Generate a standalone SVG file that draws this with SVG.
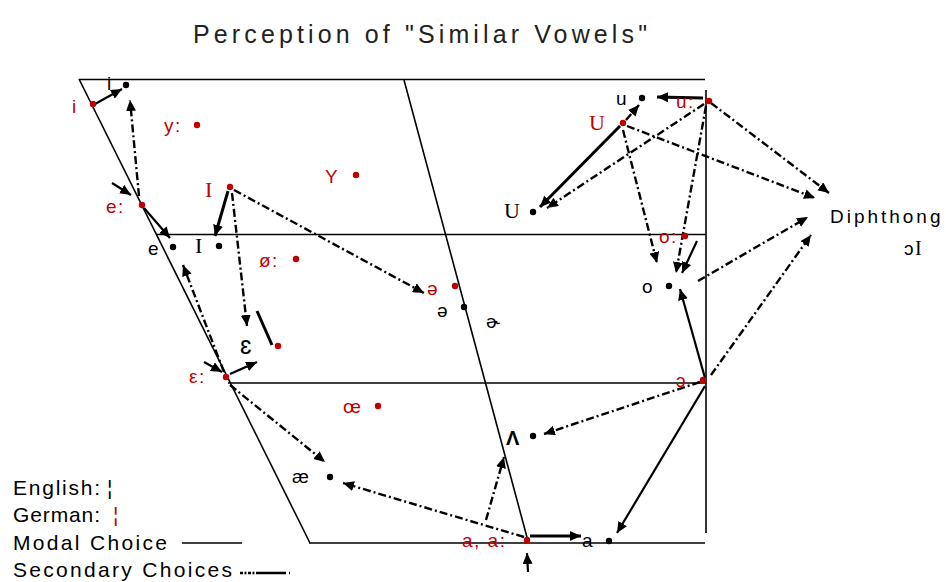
<svg xmlns="http://www.w3.org/2000/svg" width="946" height="582" viewBox="0 0 946 582">
<style>
.bg{fill:#ffffff}
.frame{stroke:#000;stroke-width:1.6;fill:none}
.lab{font-family:"Liberation Sans","DejaVu Sans",sans-serif;font-size:19px;letter-spacing:1.5px}
.ser{font-family:"Liberation Serif","DejaVu Serif",serif;font-size:22px}
.red{fill:#c00000}
.blk{fill:#000}
.dr{fill:#c00000}
.db{fill:#000}
.solid{stroke:#000;stroke-width:2.2;fill:none}
.thick{stroke:#000;stroke-width:3;fill:none}
.dd{stroke:#000;stroke-width:2.4;fill:none;stroke-dasharray:8 3 2 3}
.leg{font-family:"Liberation Sans","DejaVu Sans",sans-serif;font-size:21px}
</style>
<defs>
<marker id="ah" markerUnits="userSpaceOnUse" markerWidth="12" markerHeight="10" refX="11" refY="5" orient="auto">
<path d="M0,0 L11,5 L0,10 z" fill="#000"/>
</marker>
</defs>
<rect class="bg" x="0" y="0" width="946" height="582"/>
<text x="193" y="43" font-family="Liberation Sans, DejaVu Sans, sans-serif" font-size="25" textLength="454" lengthAdjust="spacing" fill="#222">Perception of "Similar Vowels"</text>
<g id="frame">
<line class="frame" x1="79" y1="79.5" x2="705" y2="79.5"/>
<line class="frame" x1="706" y1="90" x2="706" y2="533"/>
<line class="frame" x1="309" y1="543" x2="705" y2="543"/>
<line class="frame" x1="79" y1="79" x2="310" y2="543"/>
<line class="frame" x1="157" y1="234.5" x2="706" y2="234.5"/>
<line class="frame" x1="228" y1="383" x2="706" y2="383"/>
<line class="frame" x1="404" y1="80" x2="528" y2="541"/>
</g>
<g id="connectors">
<line class="solid" x1="95" y1="104" x2="122" y2="89" marker-end="url(#ah)"/>
<line class="solid" x1="144" y1="208" x2="170" y2="238" marker-end="url(#ah)"/>
<line class="thick" x1="228" y1="191" x2="215" y2="236" marker-end="url(#ah)"/>
<line class="thick" x1="272" y1="345" x2="257" y2="311"/>
<line class="solid" x1="230" y1="374" x2="257" y2="362" marker-end="url(#ah)"/>
<line class="solid" x1="204" y1="362" x2="222" y2="372" marker-end="url(#ah)"/>
<line class="solid" x1="112" y1="183" x2="131" y2="195" marker-end="url(#ah)"/>
<line class="thick" x1="620" y1="126" x2="540" y2="207" marker-end="url(#ah)"/>
<line class="thick" x1="703" y1="98" x2="657" y2="97" marker-end="url(#ah)"/>
<line class="solid" x1="697" y1="241" x2="682" y2="273" marker-end="url(#ah)"/>
<line class="solid" x1="705" y1="378" x2="680" y2="289" marker-end="url(#ah)"/>
<line class="solid" x1="705" y1="386" x2="617" y2="533" marker-end="url(#ah)"/>
<line class="thick" x1="530" y1="536" x2="581" y2="536" marker-end="url(#ah)"/>
<line class="solid" x1="528" y1="572" x2="527" y2="553" marker-end="url(#ah)"/>
<line class="dd" x1="139" y1="196" x2="130" y2="100" marker-end="url(#ah)"/>
<line class="dd" x1="224" y1="372" x2="183" y2="265" marker-end="url(#ah)"/>
<line class="dd" x1="232" y1="193" x2="247" y2="326" marker-end="url(#ah)"/>
<line class="dd" x1="234" y1="190" x2="424" y2="293" marker-end="url(#ah)"/>
<line class="dd" x1="230" y1="385" x2="325" y2="462" marker-end="url(#ah)"/>
<line class="dd" x1="524" y1="537" x2="343" y2="483" marker-end="url(#ah)"/>
<line class="dd" x1="486" y1="520" x2="504" y2="457" marker-end="url(#ah)"/>
<line class="dd" x1="700" y1="382" x2="544" y2="434" marker-end="url(#ah)"/>
<line class="dd" x1="711" y1="375" x2="811" y2="235" marker-end="url(#ah)"/>
<line class="dd" x1="698" y1="281" x2="808" y2="217" marker-end="url(#ah)"/>
<line class="dd" x1="711" y1="103" x2="829" y2="193" marker-end="url(#ah)"/>
<line class="dd" x1="627" y1="126" x2="815" y2="198" marker-end="url(#ah)"/>
<line class="dd" x1="704" y1="104" x2="547" y2="208" marker-end="url(#ah)"/>
<line class="dd" x1="623" y1="130" x2="657" y2="263" marker-end="url(#ah)"/>
<line class="dd" x1="706" y1="106" x2="676" y2="273" marker-end="url(#ah)"/>
<line class="dd" x1="626" y1="120" x2="639" y2="105" marker-end="url(#ah)"/>
</g>
<g id="de-i"><circle class="dr" cx="93" cy="104" r="3.2"/><text class="lab red" x="72" y="113">i</text></g>
<g id="en-i"><circle class="db" cx="126" cy="85" r="3.2"/><text class="lab blk" x="107" y="90">i</text></g>
<g id="de-y-long"><circle class="dr" cx="197" cy="125" r="3.2"/><text class="lab red" x="164" y="132">y:</text></g>
<g id="de-e-long"><circle class="dr" cx="142" cy="205" r="3.2"/><text class="lab red" x="106" y="213">e:</text></g>
<g id="de-I"><circle class="dr" cx="230" cy="187" r="3.2"/><text class="ser red" x="205" y="197">I</text></g>
<g id="de-Y"><circle class="dr" cx="356" cy="175" r="3.2"/><text class="lab red" x="325" y="183">Y</text></g>
<g id="de-oe-long"><circle class="dr" cx="296" cy="259" r="3.2"/><text class="lab red" x="259" y="267">ø:</text></g>
<g id="en-e"><circle class="db" cx="173" cy="247" r="3.2"/><text class="lab blk" x="148" y="255">e</text></g>
<g id="en-I"><circle class="db" cx="219" cy="246" r="3.2"/><text class="ser blk" x="195" y="253">I</text></g>
<g id="de-eps"><circle class="dr" cx="278" cy="346" r="3.2"/><text class="lab blk" x="240" y="354" style="font-size:25px">ɛ</text></g>
<g id="de-eps-long"><circle class="dr" cx="226" cy="377" r="3.2"/><text class="lab red" x="189" y="383">ε:</text></g>
<g id="de-schwa"><circle class="dr" cx="455" cy="286" r="3.2"/><text class="lab red" x="427" y="295">ə</text></g>
<g id="en-schwa"><circle class="db" cx="464" cy="307" r="3.2"/><text class="lab blk" x="437" y="317">ə</text></g>
<g id="en-rhotic"><text class="lab blk" x="486" y="328">ɚ</text></g>
<g id="de-oe"><circle class="dr" cx="378" cy="406" r="3.2"/><text class="lab red" x="343" y="413">œ</text></g>
<g id="en-ae"><circle class="db" cx="330" cy="477" r="3.2"/><text class="lab blk" x="292" y="483">æ</text></g>
<g id="de-a"><circle class="dr" cx="527" cy="540" r="3.2"/><text class="lab red" x="462" y="547">a, a:</text></g>
<g id="en-a"><circle class="db" cx="609" cy="541" r="3.2"/><text class="lab blk" x="582" y="547">a</text></g>
<g id="en-wedge"><circle class="db" cx="533" cy="436" r="3.2"/><text class="lab blk" x="506" y="445" style="font-size:20px;font-weight:bold">Λ</text></g>
<g id="de-open-o"><circle class="dr" cx="703" cy="380" r="3.2"/><text class="lab red" x="676" y="387">ɔ</text></g>
<g id="de-o-long"><circle class="dr" cx="685" cy="236" r="3.2"/><text class="lab red" x="659" y="243">o:</text></g>
<g id="en-o"><circle class="db" cx="669" cy="286" r="3.2"/><text class="lab blk" x="642" y="293">o</text></g>
<g id="de-u-long"><circle class="dr" cx="709" cy="101" r="3.2"/><text class="lab red" x="676" y="108">u:</text></g>
<g id="en-u"><circle class="db" cx="642" cy="98" r="3.2"/><text class="lab blk" x="616" y="105">u</text></g>
<g id="de-U"><circle class="dr" cx="623" cy="123" r="3.2"/><text class="ser red" x="589" y="130">U</text></g>
<g id="en-U"><circle class="db" cx="533" cy="212" r="3.2"/><text class="ser blk" x="504" y="218">U</text></g>
<g id="diphthong"><text class="lab blk" x="830" y="223" textLength="112" lengthAdjust="spacing">Diphthong</text><text class="lab blk" x="904" y="255">ɔ<tspan class="ser" style="font-size:20px">I</tspan></text></g>
<g id="legend">
<text class="leg blk" x="13" y="495" textLength="87" lengthAdjust="spacing">English:</text>
<text class="leg blk" x="107" y="495">¦</text>
<text class="leg blk" x="13" y="522" textLength="87" lengthAdjust="spacing">German:</text>
<text class="leg red" x="113" y="522">¦</text>
<text class="leg blk" x="13" y="550" textLength="154" lengthAdjust="spacing">Modal Choice</text>
<line x1="182" y1="543" x2="242" y2="543" stroke="#000" stroke-width="1.6"/>
<text class="leg blk" x="13" y="577" textLength="219" lengthAdjust="spacing">Secondary Choices</text>
<line x1="240" y1="573" x2="290" y2="573" stroke="#000" stroke-width="2.6" stroke-dasharray="3 1.5 2 1.5 3 1.5 2 1.5 30"/>
</g>
</svg>
